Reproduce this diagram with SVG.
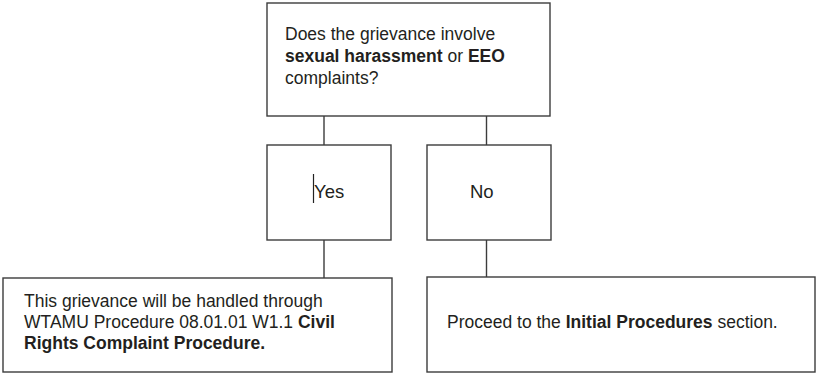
<svg xmlns="http://www.w3.org/2000/svg" width="816" height="373" viewBox="0 0 816 373">
<style>
.box{fill:#ffffff;stroke:#3c3c3c;stroke-width:1.4}
.conn{stroke:#3c3c3c;stroke-width:1.4;fill:none}
.t{font-family:"Liberation Sans",Arial,sans-serif;font-size:17.5px;fill:#231f20}
.b{font-weight:bold}
</style>
<rect width="816" height="373" fill="#ffffff"/>
<g id="connectors">
<line class="conn" x1="324" y1="116" x2="324" y2="145"/>
<line class="conn" x1="486.5" y1="116" x2="486.5" y2="145"/>
<line class="conn" x1="324" y1="240" x2="324" y2="278"/>
<line class="conn" x1="486.5" y1="240" x2="486.5" y2="277"/>
</g>
<g id="question">
<rect class="box" x="267" y="3" width="283" height="113"/>
<text class="t" x="285" y="40">Does the grievance involve</text>
<text class="t" x="285" y="62"><tspan class="b">sexual harassment</tspan> or <tspan class="b">EEO</tspan></text>
<text class="t" x="285" y="84">complaints?</text>
</g>
<g id="yes">
<rect class="box" x="267" y="145" width="124" height="95"/>
<line x1="313.5" y1="174" x2="313.5" y2="203" stroke="#222" stroke-width="1.2"/>
<text class="t" x="314" y="198" style="font-size:18.5px">Yes</text>
</g>
<g id="no">
<rect class="box" x="427" y="145" width="124" height="95"/>
<text class="t" x="470" y="198" style="font-size:18.5px">No</text>
</g>
<g id="civil-rights">
<rect class="box" x="3" y="278" width="389" height="94"/>
<text class="t" x="24" y="307">This grievance will be handled through</text>
<text class="t" x="24" y="328">WTAMU Procedure 08.01.01 W1.1 <tspan class="b">Civil</tspan></text>
<text class="t b" x="24" y="348.5">Rights Complaint Procedure.</text>
</g>
<g id="initial-procedures">
<rect class="box" x="427" y="277" width="388" height="95"/>
<text class="t" x="447" y="328">Proceed to the <tspan class="b">Initial Procedures</tspan> section.</text>
</g>
</svg>
